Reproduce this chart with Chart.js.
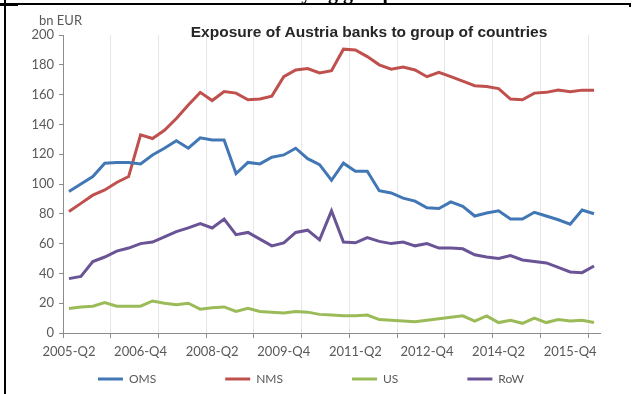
<!DOCTYPE html>
<html><head><meta charset="utf-8">
<script src="https://cdn.jsdelivr.net/npm/chart.js@4.4.0/dist/chart.umd.min.js"></script>
<style>html,body{margin:0;padding:0;background:#fff;}#wrap{position:relative;width:633px;height:394px;}</style>
</head><body><div id="wrap"><canvas id="c" width="633" height="394"></canvas></div>
<script>
const quarters = ['2005-Q2','2005-Q3','2005-Q4','2006-Q1','2006-Q2','2006-Q3','2006-Q4','2007-Q1','2007-Q2','2007-Q3','2007-Q4','2008-Q1','2008-Q2','2008-Q3','2008-Q4','2009-Q1','2009-Q2','2009-Q3','2009-Q4','2010-Q1','2010-Q2','2010-Q3','2010-Q4','2011-Q1','2011-Q2','2011-Q3','2011-Q4','2012-Q1','2012-Q2','2012-Q3','2012-Q4','2013-Q1','2013-Q2','2013-Q3','2013-Q4','2014-Q1','2014-Q2','2014-Q3','2014-Q4','2015-Q1','2015-Q2','2015-Q3','2015-Q4','2016-Q1','2016-Q2'];
const tickLabels = ['2005-Q2','2006-Q4','2008-Q2','2009-Q4','2011-Q2','2012-Q4','2014-Q2','2015-Q4'];
const oms = [95,100,105,114,114.5,114.5,113.5,119.5,124,129,124,131,129.5,129.5,107,114.5,113.5,118,119.5,124,117,113,102.5,114,108.5,108.5,95.5,94,90.5,88.5,84,83.5,88,85,78.5,80.5,82,76.5,76.5,81,78.5,76,73,82.5,80];
const nms = [81.5,87,92.5,96,101,105,133,130.5,136,144,153,161.5,156,162,161,156.5,157,159,172,176.5,177.5,174.5,176,190.5,190,185.5,180,177,178.5,176.5,172,175,172,169,166,165.5,164,157,156.5,161,161.5,163,162,163,163];
const us = [16.5,17.5,18,20.5,18,18,18,21.5,20,19,20,16,17,17.5,14.5,16.5,14.5,14,13.5,14.5,14,12.5,12,11.5,11.5,12,9,8.5,8,7.5,8.5,9.5,10.5,11.5,8,11.5,7,8.5,6.5,10,7,9,8,8.5,7];
const rowW = [36.5,38,48,51,55,57,60,61,64.5,68,70.5,73.5,70.5,76.5,66,67.5,63,58.5,60.5,67.5,69,62.5,82,61,60.5,64,61.5,60,61,58.5,60,57,57,56.5,52.5,51,50,52,49,48,47,44,41,40.5,45];
const seriesNames = ['OMS','NMS','US','RoW'];
const seriesColors = ['#4277b6','#c0504d','#9bbb59','#6a5496'];
const titleText = 'Exposure of Austria banks to group of countries';
const unitText = 'bn EUR';

const LEG_PAD = 69;
const legendFix = {
  id: 'legendFix',
  beforeUpdate(chart) {
    const lg = chart.legend;
    if (lg && !lg._patched) {
      const orig = lg.fit;
      lg.fit = function () { orig.call(this); this.height = 30; };
      lg._patched = true;
    }
  },
  afterLayout(chart) {
    const lg = chart.legend;
    if (lg) {
      const t = 379 - LEG_PAD - 6;
      lg.top = t; lg.bottom = 394; lg.height = 394 - t;
      lg.left += 11; lg.right += 11;
    }
  }
};
const decor = {
  id: 'decor',
  afterDraw(chart) {
    const ctx = chart.ctx;
    ctx.save();
    ctx.fillStyle = '#000';
    ctx.fillRect(0, 3, 18, 3);
    ctx.fillRect(18, 3, 613, 2);
    ctx.fillRect(629, 3, 2, 4);
    ctx.fillRect(4, 0, 2, 394);
    ctx.font = 'bold 20px "Liberation Serif"';
    ctx.textAlign = 'center';
    ctx.textBaseline = 'alphabetic';
    ctx.fillText('underlying group of', 330, -1);
    ctx.fillStyle = '#262626';
    ctx.font = 'bold 15.5px "Liberation Sans"';
    ctx.fillText(titleText, 369, 37);
    ctx.fillStyle = '#595959';
    ctx.font = '13px Lato';
    ctx.textAlign = 'left';
    ctx.fillText(unitText, 39, 25);
    ctx.restore();
  }
};

const data = {
  labels: quarters,
  datasets: [oms, nms, us, rowW].map((d, i) => ({
    label: seriesNames[i], data: d, borderColor: seriesColors[i], backgroundColor: seriesColors[i],
    borderWidth: 3, pointRadius: 0, tension: 0, fill: false
  }))
};

new Chart(document.getElementById('c'), {
  type: 'line',
  data,
  plugins: [legendFix, decor],
  options: {
    responsive: false, animation: false, devicePixelRatio: 1,
    layout: { padding: { left: 0, right: 33, top: 35, bottom: 0 } },
    plugins: {
      title: { display: false },
      tooltip: { enabled: false },
      legend: {
        position: 'bottom',
        labels: { usePointStyle: true, pointStyle: 'line', pointStyleWidth: 25, padding: LEG_PAD,
          color: '#595959', font: { family: 'Lato', size: 12 } }
      }
    },
    scales: {
      x: {
        type: 'category', offset: true,
        grid: {
          offset: true, drawOnChartArea: true, drawTicks: true, tickLength: 5, lineWidth: 1,
          color: c => (c.index % 4 === 0 && c.index > 0) ? '#e6e6e6' : 'rgba(0,0,0,0)',
          tickColor: c => (c.index % 4 === 0) ? '#8c8c8c' : 'rgba(0,0,0,0)'
        },
        border: { color: '#8c8c8c', width: 1 },
        ticks: {
          autoSkip: false, maxRotation: 0, minRotation: 0, padding: 6, color: '#595959',
          font: { family: 'Lato', size: 13 },
          callback: function (v) { const l = this.getLabelForValue(v); return tickLabels.includes(l) ? l : ''; }
        },
        afterFit: s => { s.height = 31; }
      },
      y: {
        min: 0, max: 200,
        ticks: { stepSize: 20, color: '#595959', font: { family: 'Lato', size: 13 }, padding: 5 },
        grid: { drawOnChartArea: false, drawTicks: true, tickLength: 4, tickColor: '#8c8c8c' },
        border: { color: '#8c8c8c', width: 1 },
        afterFit: s => { s.width = 63; }
      }
    }
  }
});
</script></body></html>
